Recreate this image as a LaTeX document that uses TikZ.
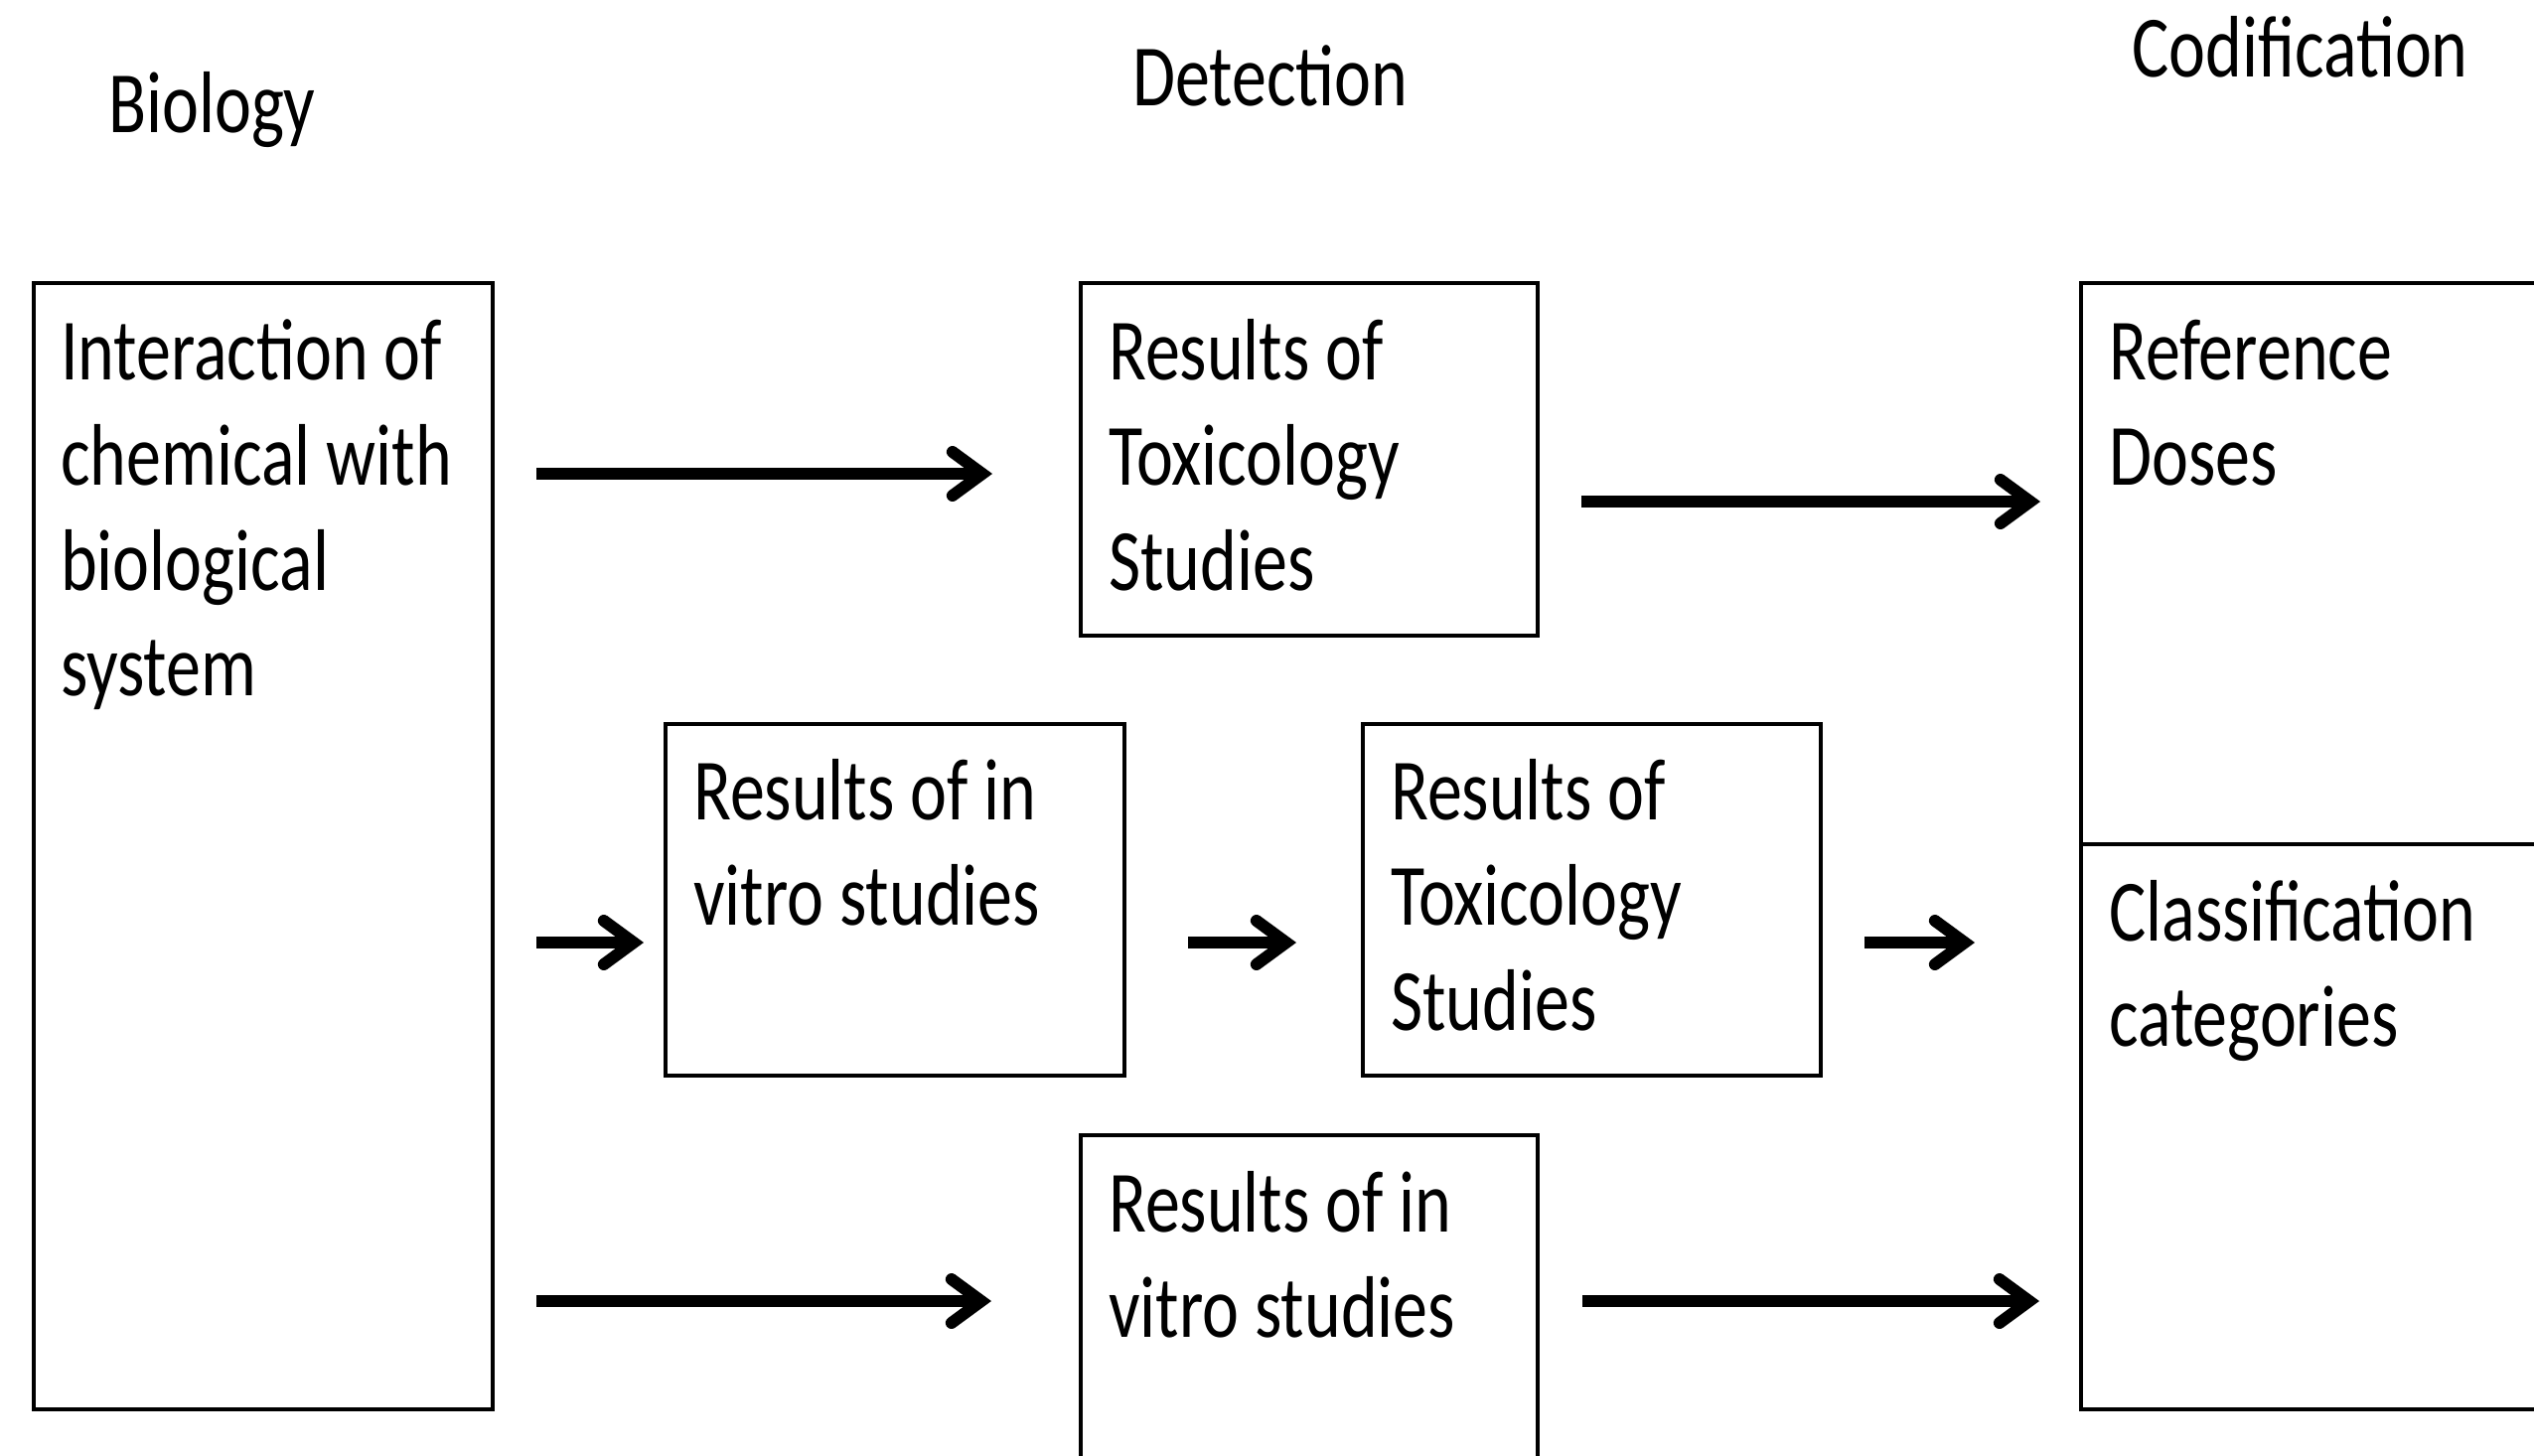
\documentclass[tikz,border=0pt]{standalone}
\usepackage{fontspec}
\setmainfont{Carlito}[FakeStretch=0.795]
\usetikzlibrary{arrows.meta}
\newcommand{\mylines}[1]{\parbox[t]{700pt}{\raggedright #1}}
\tikzset{
  box/.style={draw=black, line width=3.5pt, anchor=north west, inner sep=0pt, rectangle},
  txt/.style={anchor=base west, inner sep=0pt, font=\fontsize{88}{106}\selectfont},
  arr/.style={line width=12pt, -{Straight Barb[length=30pt,width=44pt,line cap=round]}}
}
\begin{document}
\begin{tikzpicture}[x=1pt,y=-1pt]
\clip (0,0) rectangle (2551,1465);
\fill[white] (0,0) rectangle (2551,1465);
% headings
\node[txt] (hbio) at (109,133) {Biology};
\node[txt] (hdet) at (1140,106) {Detection};
\node[txt] (hcod) at (2146,77) {Codification};
% boxes
\node[box, minimum width=462pt, minimum height=1134pt] (bio) at (32,283) {};
\node[box, minimum width=460pt, minimum height=355pt] (tox1) at (1086,283) {};
\node[box, minimum width=462pt, minimum height=354pt] (vit1) at (668,727) {};
\node[box, minimum width=461pt, minimum height=354pt] (tox2) at (1370,727) {};
\node[box, minimum width=460pt, minimum height=500pt] (vit2) at (1086,1141) {};
\node[box, minimum width=600pt, minimum height=565pt] (ref) at (2093,283) {};
\node[box, minimum width=600pt, minimum height=569pt] (cls) at (2093,848) {};
% texts
\node[txt] (tbio) at ([shift={(29,99)}]bio.north west) {\mylines{Interaction of\\chemical with\\biological\\system}};
\node[txt] (ttox1) at ([shift={(30,99)}]tox1.north west) {\mylines{Results of\\Toxicology\\Studies}};
\node[txt] (tvit1) at ([shift={(30,98)}]vit1.north west) {\mylines{Results of in\\vitro studies}};
\node[txt] (ttox2) at ([shift={(30,98)}]tox2.north west) {\mylines{Results of\\Toxicology\\Studies}};
\node[txt] (tvit2) at ([shift={(30,99)}]vit2.north west) {\mylines{Results of in\\vitro studies}};
\node[txt] (tref) at ([shift={(30,99)}]ref.north west) {\mylines{Reference\\Doses}};
\node[txt] (tcls) at ([shift={(30,99)}]cls.north west) {\mylines{Classification\\categories}};
% arrow end points
\coordinate (a1s) at (540,477);  \coordinate (a1e) at (999,477);
\coordinate (a2s) at (1592,505); \coordinate (a2e) at (2054,505);
\coordinate (b1s) at (540,949);  \coordinate (b1e) at (648,949);
\coordinate (b2s) at (1196,949); \coordinate (b2e) at (1305,949);
\coordinate (b3s) at (1877,949); \coordinate (b3e) at (1988,949);
\coordinate (c1s) at (540,1310); \coordinate (c1e) at (998,1310);
\coordinate (c2s) at (1593,1310);\coordinate (c2e) at (2053,1310);
\draw[arr] (a1s) -- (a1e);
\draw[arr] (a2s) -- (a2e);
\draw[arr] (b1s) -- (b1e);
\draw[arr] (b2s) -- (b2e);
\draw[arr] (b3s) -- (b3e);
\draw[arr] (c1s) -- (c1e);
\draw[arr] (c2s) -- (c2e);
\end{tikzpicture}
\end{document}
